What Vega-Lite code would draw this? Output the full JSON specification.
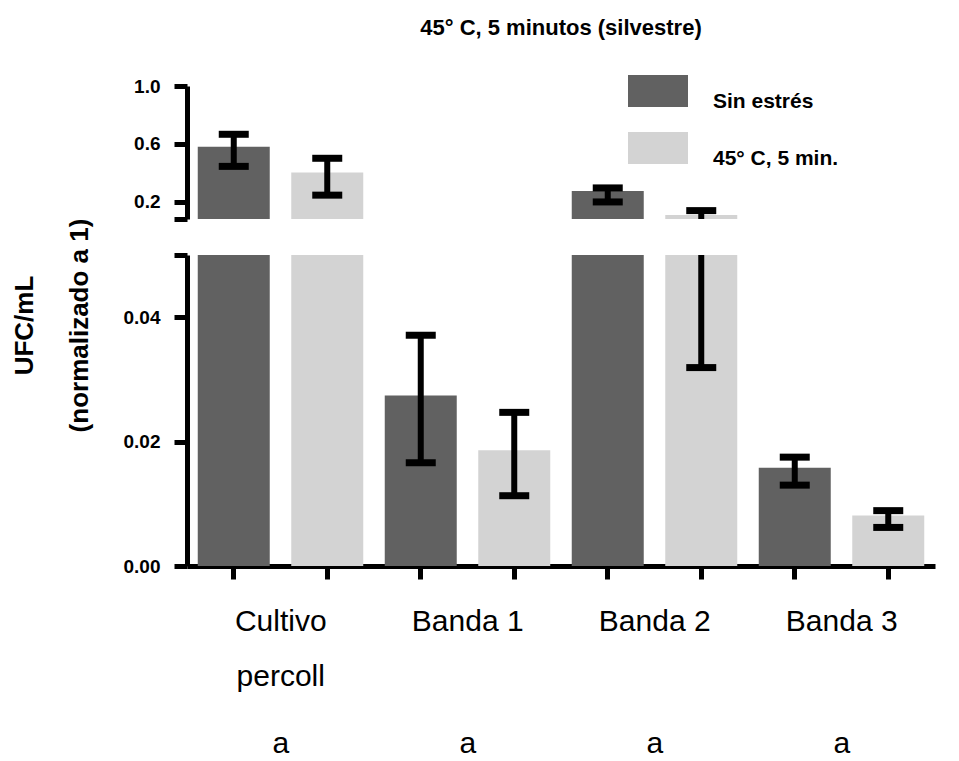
{
  "$schema": "https://vega.github.io/schema/vega-lite/v6.json",
  "background": "white",
  "padding": {"left": 11, "top": 17, "right": 10, "bottom": 0},
  "bounds": "flush",
  "spacing": 36,
  "config": {
    "font": "Liberation Sans",
    "view": {"stroke": null},
    "axis": {
      "grid": false,
      "domainColor": "black",
      "domainWidth": 5,
      "tickColor": "black",
      "tickWidth": 5,
      "tickSize": 13,
      "labelColor": "black",
      "labelFont": "Liberation Sans",
      "labelFontWeight": "bold",
      "labelFontSize": 19,
      "titleColor": "black"
    }
  },
  "datasets": {
    "bars": [
      {"key": "Cultivo percoll|Sin estrés", "grupo": "Cultivo percoll", "condicion": "Sin estrés", "media": 0.580, "lo": 0.444, "hi": 0.666, "letra": "a"},
      {"key": "Cultivo percoll|45° C, 5 min.", "grupo": "Cultivo percoll", "condicion": "45° C, 5 min.", "media": 0.401, "lo": 0.245, "hi": 0.500, "letra": "a"},
      {"key": "Banda 1|Sin estrés", "grupo": "Banda 1", "condicion": "Sin estrés", "media": 0.0274, "lo": 0.0166, "hi": 0.0371, "letra": "a"},
      {"key": "Banda 1|45° C, 5 min.", "grupo": "Banda 1", "condicion": "45° C, 5 min.", "media": 0.0186, "lo": 0.0113, "hi": 0.0247, "letra": "a"},
      {"key": "Banda 2|Sin estrés", "grupo": "Banda 2", "condicion": "Sin estrés", "media": 0.274, "lo": 0.198, "hi": 0.295, "letra": "a"},
      {"key": "Banda 2|45° C, 5 min.", "grupo": "Banda 2", "condicion": "45° C, 5 min.", "media": 0.108, "lo": 0.0319, "hi": 0.138, "letra": "a"},
      {"key": "Banda 3|Sin estrés", "grupo": "Banda 3", "condicion": "Sin estrés", "media": 0.0158, "lo": 0.0130, "hi": 0.0175, "letra": "a"},
      {"key": "Banda 3|45° C, 5 min.", "grupo": "Banda 3", "condicion": "45° C, 5 min.", "media": 0.0081, "lo": 0.0062, "hi": 0.0089, "letra": "a"}
    ]
  },
  "resolve": {"scale": {"color": "independent"}, "legend": {"color": "independent"}},
  "vconcat": [
    {
      "width": 748,
      "height": 133,
      "title": {"text": "45° C, 5 minutos (silvestre)", "fontSize": 22, "fontWeight": "bold", "color": "black", "anchor": "middle", "frame": "group", "offset": 21},
      "data": {"name": "bars"},
      "encoding": {
        "x": {"field": "key", "type": "nominal", "sort": null, "scale": {"paddingInner": 0.23, "paddingOuter": 0.115}, "axis": null}
      },
      "layer": [
        {
          "mark": {"type": "bar", "clip": true},
          "encoding": {
            "y": {"field": "media", "type": "quantitative", "scale": {"domain": [0.08, 1.0], "nice": false, "zero": false},
                  "axis": {"title": null, "values": [0.08, 0.2, 0.6, 1.0], "labelExpr": "datum.value < 0.1 ? '' : format(datum.value, '.1f')", "labelPadding": 14}},
            "color": {"field": "condicion", "type": "nominal", "sort": null,
                      "scale": {"domain": ["Sin estrés", "45° C, 5 min."], "range": ["#616161", "#d3d3d3"]},
                      "legend": {"orient": "none", "legendX": 441, "legendY": -25, "title": null,
                                 "symbolType": "M-1,-0.533H1V0.533H-1Z", "symbolSize": 3600, "symbolStrokeWidth": 0,
                                 "labelFontSize": 21, "labelFontWeight": "bold", "labelColor": "black", "labelOffset": 25, "labelBaseline": "top", "rowPadding": 6}}
          }
        },
        {
          "mark": {"type": "rule", "clip": true, "strokeWidth": 6, "color": "black"},
          "encoding": {"y": {"field": "lo", "type": "quantitative"}, "y2": {"field": "hi"}}
        },
        {
          "mark": {"type": "tick", "clip": true, "orient": "horizontal", "size": 30, "thickness": 7, "color": "black", "opacity": 1},
          "encoding": {"y": {"field": "lo", "type": "quantitative"}}
        },
        {
          "mark": {"type": "tick", "clip": true, "orient": "horizontal", "size": 30, "thickness": 7, "color": "black", "opacity": 1},
          "encoding": {"y": {"field": "hi", "type": "quantitative"}}
        }
      ]
    },
    {
      "width": 748,
      "height": 311,
      "data": {"name": "bars"},
      "encoding": {
        "x": {"field": "key", "type": "nominal", "sort": null, "scale": {"paddingInner": 0.23, "paddingOuter": 0.115},
              "axis": {"title": null, "labelOverlap": false, "labelFontWeight": "normal", "labelFontSize": 30, "labelAngle": 0,
                       "labelAlign": "center", "labelBaseline": "top", "labelOffset": 47, "labelPadding": 27, "labelLineHeight": 55, "labelLimit": 0,
                       "labelExpr": "indexof(datum.value, 'Sin estrés') < 0 ? '' : (datum.value == 'Cultivo percoll|Sin estrés' ? ['Cultivo', 'percoll'] : split(datum.value, '|')[0])"}}
      },
      "layer": [
        {
          "mark": {"type": "bar", "clip": true},
          "encoding": {
            "y": {"field": "media", "type": "quantitative", "scale": {"domain": [0, 0.05], "nice": false},
                  "axis": {"values": [0, 0.02, 0.04, 0.05], "labelExpr": "datum.value > 0.045 ? '' : format(datum.value, '.2f')", "labelPadding": 14,
                           "title": ["UFC/mL", "(normalizado a 1)"], "titleFontSize": 26, "titleFontWeight": "bold", "titleLineHeight": 55,
                           "titleAngle": -90, "titleAlign": "center", "titleBaseline": "alphabetic", "titleX": -155, "titleY": 70}},
            "color": {"field": "condicion", "type": "nominal", "sort": null,
                      "scale": {"domain": ["Sin estrés", "45° C, 5 min."], "range": ["#616161", "#d3d3d3"]}, "legend": null}
          }
        },
        {
          "mark": {"type": "rule", "clip": true, "strokeWidth": 6, "color": "black"},
          "encoding": {"y": {"field": "lo", "type": "quantitative"}, "y2": {"field": "hi"}}
        },
        {
          "mark": {"type": "tick", "clip": true, "orient": "horizontal", "size": 30, "thickness": 7, "color": "black", "opacity": 1},
          "encoding": {"y": {"field": "lo", "type": "quantitative"}}
        },
        {
          "mark": {"type": "tick", "clip": true, "orient": "horizontal", "size": 30, "thickness": 7, "color": "black", "opacity": 1},
          "encoding": {"y": {"field": "hi", "type": "quantitative"}}
        },
        {
          "transform": [{"filter": "datum.condicion == 'Sin estrés'"}],
          "mark": {"type": "text", "fontSize": 30, "font": "Liberation Sans", "color": "black", "align": "center", "baseline": "alphabetic", "dx": 47, "dy": 187},
          "encoding": {"y": {"datum": 0, "type": "quantitative"}, "text": {"field": "letra"}}
        }
      ]
    }
  ]
}
